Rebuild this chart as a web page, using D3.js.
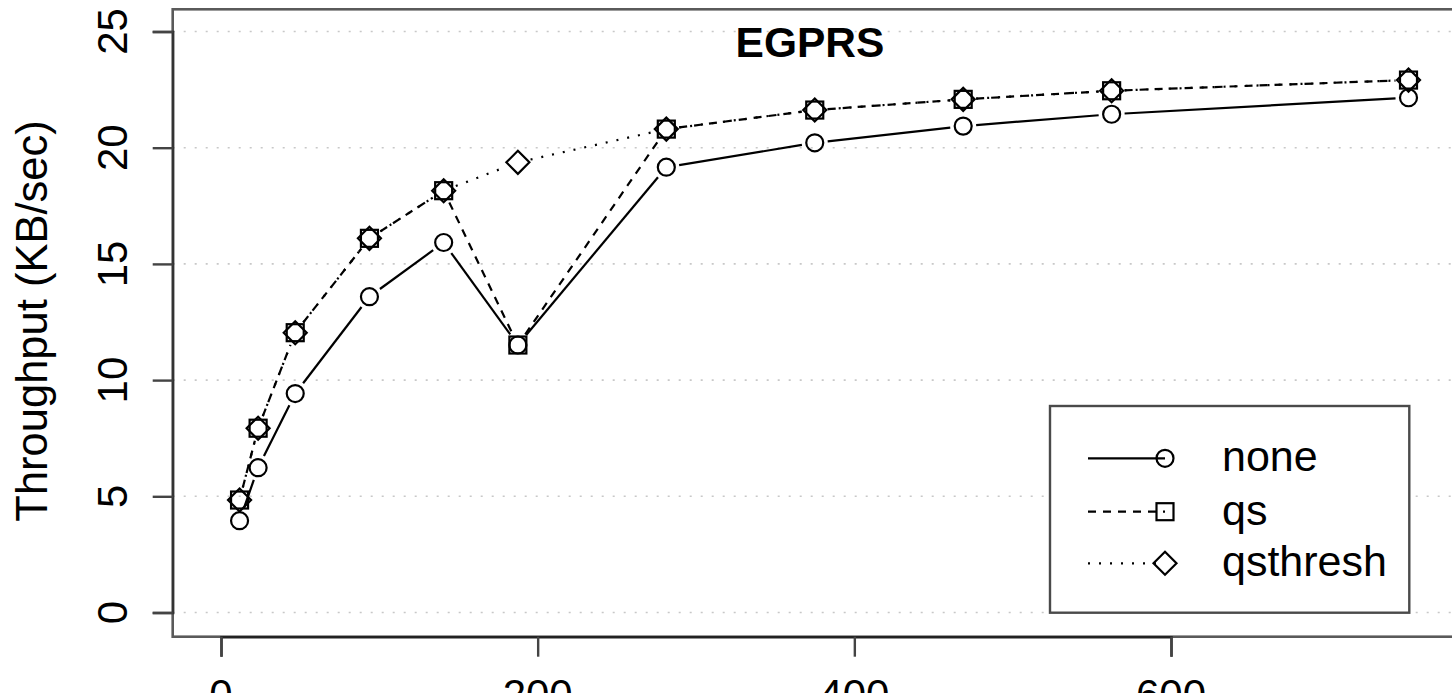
<!DOCTYPE html>
<html>
<head>
<meta charset="utf-8">
<script src="https://cdn.jsdelivr.net/npm/d3@7"></script>
<style>
  html, body { margin: 0; padding: 0; background: #fff; overflow: hidden; }
  svg { display: block; }
  text { font-family: "Liberation Sans", Arial, Helvetica, sans-serif; fill: #000; }
</style>
</head>
<body>
<svg id="chart" width="1452" height="693"></svg>
<script>
// ---- data ----
const sizes = [11.72, 23.44, 46.88, 93.75, 140.63, 187.5, 281.25, 375, 468.75, 562.5, 750];
const noneVals = [3.95, 6.23, 9.42, 13.59, 15.92, 11.51, 19.16, 20.21, 20.93, 21.44, 22.15];
const qsVals = [4.84, 7.93, 12.04, 16.10, 18.15, 11.51, 20.80, 21.62, 22.08, 22.45, 22.91];
const qsthreshVals = [4.84, 7.93, 12.04, 16.10, 18.15, 19.37, 20.80, 21.62, 22.08, 22.45, 22.91];
const seriesNames = ["none", "qs", "qsthresh"];
const xTicks = [0, 200, 400, 600];
const yTicks = [0, 5, 10, 15, 20, 25];
const title = "EGPRS";
const yLabel = "Throughput (KB/sec)";

// ---- layout ----
const svg = d3.select("#chart");
const frame = { left: 172.7, top: 9.3, right: 1475, bottom: 636.7 };
const x = d3.scaleLinear().domain([0, 600]).range([221, 1171]);
const y = d3.scaleLinear().domain([0, 25]).range([612.5, 31.5]);

// grid
svg.append("g").selectAll("line").data(yTicks).join("line")
  .attr("x1", frame.left).attr("x2", frame.right)
  .attr("y1", d => y(d)).attr("y2", d => y(d))
  .attr("stroke", "#c8c8c8").attr("stroke-width", 1.6)
  .attr("stroke-dasharray", "2,9");

// frame
svg.append("rect")
  .attr("x", frame.left).attr("y", frame.top)
  .attr("width", frame.right - frame.left).attr("height", frame.bottom - frame.top)
  .attr("fill", "none").attr("stroke", "#5a5a5a").attr("stroke-width", 2.6);

// axes
const yAxis = d3.axisLeft(y).tickValues(yTicks).tickSize(20).tickFormat("");
const gy = svg.append("g").attr("transform", `translate(${frame.left},0)`).call(yAxis);
gy.selectAll("path").attr("stroke", "#333").attr("stroke-width", 2.4);
gy.selectAll("line").attr("stroke", "#444").attr("stroke-width", 2.4);

const xAxis = d3.axisBottom(x).tickValues(xTicks).tickSize(20).tickFormat("");
const gx = svg.append("g").attr("transform", `translate(0,${frame.bottom})`).call(xAxis);
gx.selectAll("path").attr("stroke", "#222").attr("stroke-width", 2.4);
gx.selectAll("line").attr("stroke", "#444").attr("stroke-width", 2.4);

// tick labels
svg.append("g").selectAll("text").data(yTicks).join("text")
  .attr("transform", d => `translate(127,${y(d)}) rotate(-90)`)
  .attr("text-anchor", "middle")
  .attr("font-size", 42)
  .text(d => d);

svg.append("g").selectAll("text").data(xTicks).join("text")
  .attr("x", d => x(d)).attr("y", 709)
  .attr("text-anchor", "middle")
  .attr("font-size", 42)
  .text(d => d);

// y label
svg.append("text")
  .attr("transform", `translate(47,321) rotate(-90)`)
  .attr("text-anchor", "middle")
  .attr("font-size", 43.5)
  .text(yLabel);

// title
svg.append("text")
  .attr("x", 810).attr("y", 57)
  .attr("text-anchor", "middle")
  .attr("font-size", 42.5).attr("font-weight", "bold")
  .text(title);

// ---- series ----
const seriesData = [noneVals, qsVals, qsthreshVals];
const dashes = [null, "8,7", "2,9"];
const shapes = ["circle", "square", "diamond"];
const gap = 13;

function drawShape(g, shape, cx, cy) {
  if (shape === "circle") {
    g.append("circle").attr("cx", cx).attr("cy", cy).attr("r", 8.5)
      .attr("fill", "none").attr("stroke", "#000").attr("stroke-width", 2.2);
  } else if (shape === "square") {
    g.append("rect").attr("x", cx - 8.5).attr("y", cy - 8.5).attr("width", 17).attr("height", 17)
      .attr("fill", "none").attr("stroke", "#000").attr("stroke-width", 2.2);
  } else {
    const r = 11.5;
    g.append("path").attr("d", `M${cx},${cy - r}L${cx + r},${cy}L${cx},${cy + r}L${cx - r},${cy}Z`)
      .attr("fill", "none").attr("stroke", "#000").attr("stroke-width", 2.2);
  }
}

seriesData.forEach((vals, si) => {
  const g = svg.append("g");
  const pts = sizes.map((s, i) => [x(s), y(vals[i])]);
  const segs = [];
  for (let i = 0; i < pts.length - 1; i++) {
    const [x1, y1] = pts[i], [x2, y2] = pts[i + 1];
    const len = Math.hypot(x2 - x1, y2 - y1);
    if (len <= 2 * gap) continue;
    const ux = (x2 - x1) / len, uy = (y2 - y1) / len;
    segs.push([x1 + ux * gap, y1 + uy * gap, x2 - ux * gap, y2 - uy * gap]);
  }
  g.selectAll("line").data(segs).join("line")
    .attr("x1", d => d[0]).attr("y1", d => d[1]).attr("x2", d => d[2]).attr("y2", d => d[3])
    .attr("stroke", "#000").attr("stroke-width", 2.2)
    .attr("stroke-dasharray", dashes[si]);
  pts.forEach(p => drawShape(g, shapes[si], p[0], p[1]));
});

// ---- legend ----
const lg = svg.append("g");
lg.append("rect").attr("x", 1050).attr("y", 406).attr("width", 359.3).attr("height", 206.7)
  .attr("fill", "#fff").attr("stroke", "#4a4a4a").attr("stroke-width", 2.4);
const rowY = [458.3, 511.7, 563.3];
seriesNames.forEach((name, i) => {
  lg.append("line").attr("x1", 1088).attr("x2", 1165).attr("y1", rowY[i]).attr("y2", rowY[i])
    .attr("stroke", "#000").attr("stroke-width", 2.2).attr("stroke-dasharray", dashes[i]);
  drawShape(lg, shapes[i], 1165, rowY[i]);
  lg.append("text").attr("x", 1222).attr("y", rowY[i] + 13)
    .attr("font-size", 43).text(name);
});
</script>
</body>
</html>
